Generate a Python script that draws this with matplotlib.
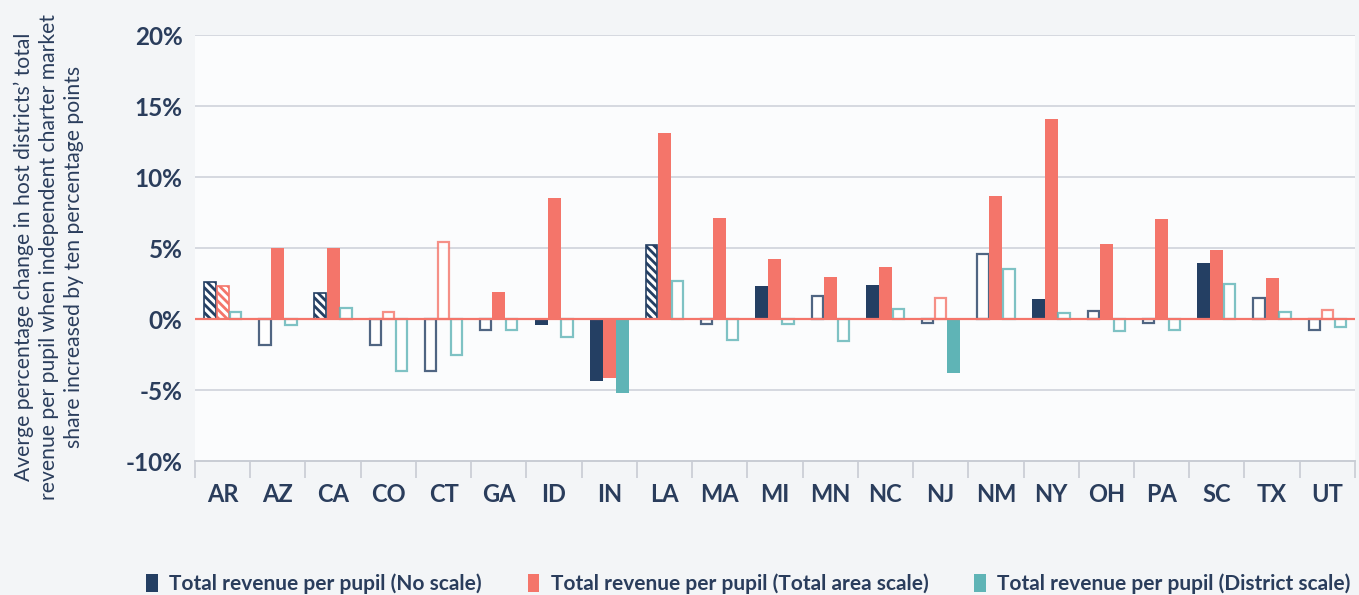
import matplotlib.pyplot as plt
import numpy as np
from matplotlib.patches import Patch

plt.rcParams["font.family"] = ["Lato", "DejaVu Sans"]
plt.rcParams["hatch.linewidth"] = 2.0

states = ["AR", "AZ", "CA", "CO", "CT", "GA", "ID", "IN", "LA", "MA", "MI",
          "MN", "NC", "NJ", "NM", "NY", "OH", "PA", "SC", "TX", "UT"]

no_scale = [2.6, -1.8, 1.8, -1.85, -3.65, -0.75, -0.4, -4.35, 5.25, -0.37, 2.3,
            1.6, 2.4, -0.28, 4.6, 1.4, 0.54, -0.26, 3.94, 1.5, -0.78]
area_scale = [2.3, 5.0, 5.0, 0.5, 5.4, 1.9, 8.5, -4.13, 13.1, 7.1, 4.2,
              2.95, 3.66, 1.5, 8.7, 14.1, 5.28, 7.04, 4.86, 2.89, 0.63]
district_scale = [0.5, -0.45, 0.75, -3.65, -2.55, -0.75, -1.27, -5.2, 2.7, -1.45, -0.37,
                  -1.57, 0.7, -3.8, 3.5, 0.42, -0.85, -0.78, 2.5, 0.5, -0.59]

# f = filled, o = outline only, h = hatched
no_scale_style = ["h", "o", "h", "o", "o", "o", "f", "f", "h", "o", "f",
                  "o", "f", "o", "o", "f", "o", "o", "f", "o", "o"]
area_style = ["h", "f", "f", "o", "o", "f", "f", "f", "f", "f", "f",
              "f", "f", "o", "f", "f", "f", "f", "f", "f", "o"]
district_style = ["o", "o", "o", "o", "o", "o", "o", "f", "o", "o", "o",
                  "o", "o", "f", "o", "o", "o", "o", "o", "o", "o"]

labels = ["Total revenue per pupil (No scale)",
          "Total revenue per pupil (Total area scale)",
          "Total revenue per pupil (District scale)"]

NAVY = "#243f63"
SALMON = "#f4756a"
TEAL = "#5fb4b6"
TEXT = "#2a3d5c"
GRID = "#d5d9e0"

fig = plt.figure(figsize=(13.59, 5.95), dpi=100, facecolor="#f3f5f7")
ax = fig.add_axes([0.1435, 0.2252, 0.8535, 0.7158])
ax.set_facecolor("#fbfcfd")

x = np.arange(len(states))
w = 0.235
series = [(no_scale, no_scale_style, NAVY, -w),
          (area_scale, area_style, SALMON, 0.0),
          (district_scale, district_style, TEAL, w)]

for vals, styles, color, off in series:
    for xi, v, s in zip(x, vals, styles):
        if s == "f":
            ax.bar(xi + off, v, w, color=color, linewidth=0, zorder=2)
        elif s == "o":
            ax.bar(xi + off, v, w - 0.03, facecolor="white", edgecolor=color,
                   linewidth=1.6, alpha=0.8, zorder=2)
        else:
            ax.bar(xi + off, v, w - 0.02, facecolor="white", edgecolor=color,
                   hatch="\\\\\\\\", linewidth=1.2, zorder=2)

ax.axhline(0, color=SALMON, lw=1.6, zorder=3)

ax.set_xlim(-0.5, len(states) - 0.5)
ax.set_ylim(-10, 20)
yt = np.arange(-10, 21, 5)
ax.set_yticks(yt)
ax.set_yticklabels([f"{t}%" for t in yt])
for t in yt:
    if t not in (-10, 0):
        ax.axhline(t, color=GRID, lw=1.4, zorder=0)

ax.set_xticks(x)
ax.set_xticklabels(states)
ax.set_xticks(np.arange(-0.5, len(states), 1), minor=True)
ax.tick_params(axis="x", which="major", length=0, pad=16, labelsize=17,
               labelcolor=TEXT)
ax.tick_params(axis="x", which="minor", length=12, width=1.2, color="#c8ccd4")
ax.tick_params(axis="y", length=0, pad=9, labelsize=17.5, labelcolor=TEXT)
for lab in ax.get_xticklabels() + ax.get_yticklabels():
    lab.set_fontweight("bold")

for name in ("top", "right", "left"):
    ax.spines[name].set_visible(False)
ax.spines["bottom"].set_color("#c8ccd4")
ax.spines["bottom"].set_linewidth(1.4)

fig.text(0.036, 0.568,
         "Averge percentage change in host districts\u2019 total\n"
         "revenue per pupil when independent charter market\n"
         "share increased by ten percentage points",
         rotation=90, ha="center", va="center", ma="center",
         fontsize=15.2, color=TEXT, linespacing=1.3)

handles = [Patch(facecolor=c, edgecolor="none") for c in (NAVY, SALMON, TEAL)]
leg = fig.legend(handles, labels, loc="lower left", bbox_to_anchor=(0.094, -0.03),
                 ncol=3, frameon=False, handlelength=0.55, handleheight=0.9,
                 handletextpad=0.55, columnspacing=2.2, fontsize=15)
for t in leg.get_texts():
    t.set_color(TEXT)
    t.set_fontweight("bold")

fig.savefig("out.png", dpi=100, facecolor=fig.get_facecolor())
